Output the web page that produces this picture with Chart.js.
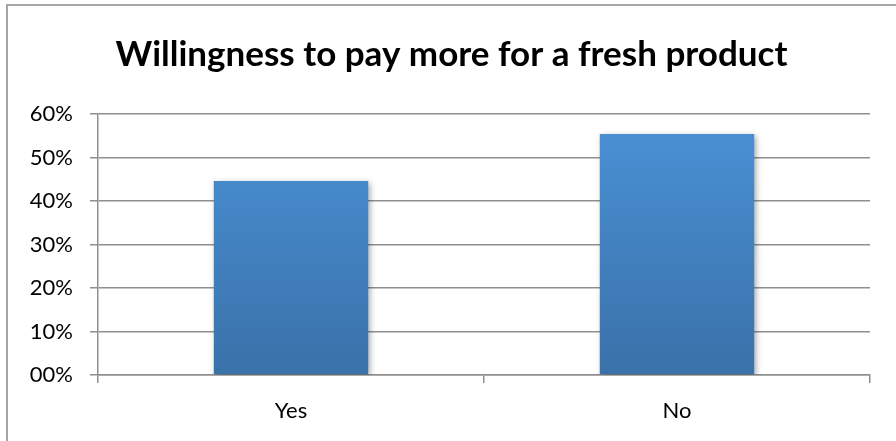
<!DOCTYPE html>
<html>
<head>
<meta charset="utf-8">
<script src="https://cdn.jsdelivr.net/npm/chart.js@4/dist/chart.umd.min.js"></script>
<style>
  html, body { margin: 0; padding: 0; background: #fff; }
  #wrap { width: 896px; height: 441px; position: relative; }
</style>
</head>
<body>
<div id="wrap"><canvas id="canvas"></canvas></div>
<script>
const categories = ['Yes', 'No']
const shares = [44.6, 55.4]
const yTicks = [0, 10, 20, 30, 40, 50, 60]
const titleText = 'Willingness to pay more for a fresh product'

const gridGray = '#8f8f8f'

// blue bars, lighter at the top
function barFill(ctx) {
    const area = ctx.chart.chartArea
    if (!area) return '#4a8fd2'
    const g = ctx.chart.ctx.createLinearGradient(0, area.top, 0, area.bottom)
    g.addColorStop(0, '#4a92d6')
    g.addColorStop(1, '#3a71a9')
    return g
}

// soft shadow under the bars, frame on the left and top, centred title
const extras = {
    id: 'extras',
    beforeDatasetsDraw(chart) {
        const c = chart.ctx
        c.save()
        c.shadowColor = 'rgba(0,0,0,0.35)'
        c.shadowBlur = 6
        c.shadowOffsetX = 2
        c.shadowOffsetY = 2
    },
    afterDatasetsDraw(chart) {
        chart.ctx.restore()
    },
    afterDraw(chart) {
        const c = chart.ctx
        c.save()
        c.strokeStyle = '#a6a6a6'
        c.lineWidth = 2
        c.beginPath()
        c.moveTo(7, chart.height)
        c.lineTo(7, 5)
        c.lineTo(chart.width, 5)
        c.stroke()

        // title sits centred inside the frame, not over the plot
        c.fillStyle = '#000'
        c.font = 'bold 35px Lato'
        c.textAlign = 'center'
        c.textBaseline = 'middle'
        c.fillText(titleText, (7 + chart.width) / 2, 55)
        c.restore()
    }
}

const data = {
    labels: categories,
    datasets: [{
        data: shares,
        backgroundColor: barFill,
        borderWidth: 0,
        barPercentage: 0.4,
        categoryPercentage: 1.0,
    }]
}

const config = {
    type: 'bar',
    data: data,
    options: {
        responsive: true,
        maintainAspectRatio: false,
        animation: false,
        layout: { padding: { left: 0, right: 26, top: 114, bottom: 0 } },
        plugins: {
            legend: { display: false },
            tooltip: { enabled: false },
            title: { display: false },
        },
        scales: {
            x: {
                afterFit(scale) { scale.height = 66 },
                grid: { drawOnChartArea: false, offset: true, tickLength: 8, color: gridGray, lineWidth: 1.5 },
                border: { color: gridGray, width: 1.5 },
                ticks: { color: '#000', padding: 15, font: { family: 'Lato', size: 22 } },
            },
            y: {
                min: 0,
                max: 60,
                afterFit(scale) { scale.width = 98 },
                afterBuildTicks(scale) { scale.ticks = yTicks.map(v => ({ value: v })) },
                grid: { color: gridGray, lineWidth: 1.5, tickLength: 8 },
                border: { color: gridGray, width: 1.5 },
                ticks: {
                    color: '#000',
                    padding: 17,
                    font: { family: 'Lato', size: 22 },
                    callback: v => String(v).padStart(2, '0') + '%',
                },
            },
        },
    },
    plugins: [extras],
}

const canvas = document.getElementById('canvas')
const chart = new Chart(canvas, config)
</script>
</body>
</html>
